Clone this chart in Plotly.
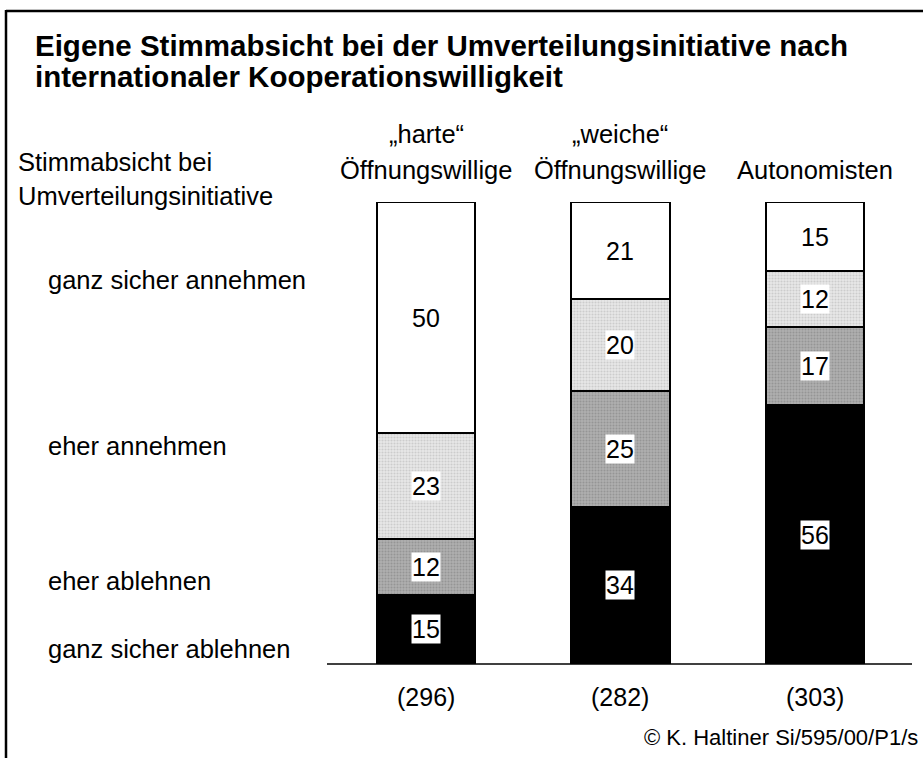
import plotly.graph_objects as go

groups = ["harte", "weiche", "auto"]
group_line1 = ["„harte“", "„weiche“", ""]
group_line2 = ["Öffnungswillige", "Öffnungswillige", "Autonomisten"]
n_counts = ["(296)", "(282)", "(303)"]

categories = ["ganz sicher ablehnen", "eher ablehnen", "eher annehmen", "ganz sicher annehmen"]
ganz_sicher_ablehnen = [15, 34, 56]
eher_ablehnen = [12, 25, 17]
eher_annehmen = [23, 20, 12]
ganz_sicher_annehmen = [50, 21, 15]
series = [ganz_sicher_ablehnen, eher_ablehnen, eher_annehmen, ganz_sicher_annehmen]

title_lines = ["Eigene Stimmabsicht bei der Umverteilungsinitiative nach",
               "internationaler Kooperationswilligkeit"]
copyright_text = "© K. Haltiner Si/595/00/P1/s"

FONT = "Liberation Sans, Arial, sans-serif"
W, H = 923, 758
L, R, T, B = 327, 11, 202, 94
FS = 25.5
FSD = 25

def px(x):
    return (x - L) / (W - L - R)

def py(y):
    return (H - B - y) / (H - T - B)

styles = [
    dict(color="#000000"),
    dict(color="#a8a8a8", pattern=dict(shape=".", fgcolor="#7a7a7a", bgcolor="#b0b0b0", size=3, solidity=0.4)),
    dict(color="#e0e0e0", pattern=dict(shape=".", fgcolor="#b0b0b0", bgcolor="#e8e8e8", size=3, solidity=0.4)),
    dict(color="#ffffff"),
]

xs = [0, 1, 2]
fig = go.Figure()
for name, vals, st in zip(categories, series, styles):
    marker = dict(color=st["color"], line=dict(color="#000000", width=2))
    if "pattern" in st:
        marker["pattern"] = st["pattern"]
    fig.add_trace(go.Bar(x=xs, y=vals, name=name, marker=marker, width=0.505,
                         hoverinfo="skip", showlegend=False))

annotations = []
# data labels
for i in range(3):
    cum = 0
    for vals in series:
        v = vals[i]
        annotations.append(dict(x=xs[i], y=cum + v / 2, xref="x", yref="y", text=str(v),
                                showarrow=False, bgcolor="#ffffff", borderpad=0,
                                font=dict(family=FONT, size=FSD, color="#000")))
        cum += v

# headers
for i in range(3):
    if group_line1[i]:
        annotations.append(dict(x=xs[i], y=py(134), xref="x", yref="paper", text=group_line1[i],
                                showarrow=False, yanchor="middle",
                                font=dict(family=FONT, size=FS, color="#000")))
    annotations.append(dict(x=xs[i], y=py(170), xref="x", yref="paper", text=group_line2[i],
                            showarrow=False, yanchor="middle",
                            font=dict(family=FONT, size=FS, color="#000")))
    annotations.append(dict(x=xs[i], y=py(697), xref="x", yref="paper", text=n_counts[i],
                            showarrow=False, yanchor="middle",
                            font=dict(family=FONT, size=FSD, color="#000")))

# left side labels
left_texts = [("Stimmabsicht bei", 16, 162), ("Umverteilungsinitiative", 16, 196),
              ("ganz sicher annehmen", 46, 280), ("eher annehmen", 46, 446),
              ("eher ablehnen", 46, 581), ("ganz sicher ablehnen", 46, 649)]
for t, x0, y0 in left_texts:
    annotations.append(dict(x=px(x0), y=py(y0), xref="paper", yref="paper", text=t,
                            showarrow=False, xanchor="left", yanchor="middle",
                            font=dict(family=FONT, size=FS, color="#000")))

# title
for t, y0 in zip(title_lines, [45, 76]):
    annotations.append(dict(x=px(33), y=py(y0), xref="paper", yref="paper", text="<b>" + t + "</b>",
                            showarrow=False, xanchor="left", yanchor="middle",
                            font=dict(family=FONT, size=29.5, color="#000")))

annotations.append(dict(x=px(920), y=py(737), xref="paper", yref="paper", text=copyright_text,
                        showarrow=False, xanchor="right", yanchor="middle",
                        font=dict(family=FONT, size=22, color="#000")))

shapes = [
    dict(type="line", xref="paper", yref="paper", x0=px(6), x1=px(W + 10), y0=py(11), y1=py(11),
         line=dict(color="#000", width=2.5)),
    dict(type="line", xref="paper", yref="paper", x0=px(6), x1=px(6), y0=py(10), y1=py(H + 10),
         line=dict(color="#000", width=2.5)),
    dict(type="line", xref="paper", yref="paper", x0=0, x1=1, y0=0, y1=0,
         line=dict(color="#000", width=1.5)),
]

fig.update_layout(
    width=W, height=H,
    margin=dict(l=L, r=R, t=T, b=B),
    barmode="stack",
    paper_bgcolor="#ffffff", plot_bgcolor="#ffffff",
    xaxis=dict(range=[-0.51, 2.5], visible=False, fixedrange=True),
    yaxis=dict(range=[0, 100], visible=False, fixedrange=True),
    annotations=annotations,
    shapes=shapes,
    showlegend=False,
)

fig.write_html("out.html", config={"displayModeBar": False},
               post_script="document.body.style.margin='0px';document.body.style.padding='0px';")
